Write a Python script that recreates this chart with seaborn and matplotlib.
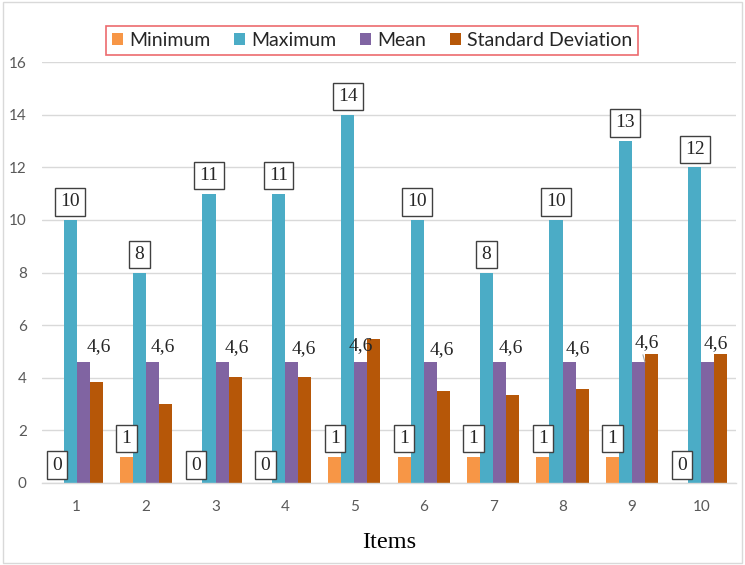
import matplotlib
matplotlib.use("Agg")
import matplotlib.pyplot as plt
import seaborn as sns
import pandas as pd
from matplotlib.patches import Rectangle

# ---- data ----
items = ["1", "2", "3", "4", "5", "6", "7", "8", "9", "10"]
series_names = ["Minimum", "Maximum", "Mean", "Standard Deviation"]
minimum = [0, 1, 0, 0, 1, 1, 1, 1, 1, 0]
maximum = [10, 8, 11, 11, 14, 10, 8, 10, 13, 12]
mean = [4.6, 4.6, 4.6, 4.6, 4.6, 4.6, 4.6, 4.6, 4.6, 4.6]
std_dev = [3.82, 3.02, 4.02, 4.02, 5.48, 3.50, 3.35, 3.57, 4.92, 4.92]
y_ticks = [0, 2, 4, 6, 8, 10, 12, 14, 16]

# ---- styling ----
colors = ["#F79646", "#4BACC6", "#8064A2", "#B65708"]
# offsets (pixels) for the "4,6" mean labels relative to bar top-centre
mean_label_dx = [16, 10, 15, 12, 0, 12, 11, 9, 8, 8]
mean_label_dy = [15, 15, 14, 13, 16, 12, 14, 13, 19, 18]

sns.set_style("white")
plt.rcParams["font.family"] = ["Lato", "DejaVu Sans"]

df = pd.DataFrame({
    "Item": items * 4,
    "Statistic": sum([[s] * len(items) for s in series_names], []),
    "Value": minimum + maximum + mean + std_dev,
})

fig = plt.figure(figsize=(7.45, 5.65), dpi=100)
ax = fig.add_axes([42 / 745, 1 - 483 / 565, (736 - 42) / 745, (483 - 62) / 565])

sns.barplot(data=df, x="Item", y="Value", hue="Statistic", order=items,
            hue_order=series_names, palette=colors, saturation=1, width=0.75,
            linewidth=0, ax=ax, errorbar=None)

ax.set_ylim(0, 16)
ax.set_yticks(y_ticks)
ax.set_xlim(-0.5, len(items) - 0.5)
ax.yaxis.grid(True, color="#d9d9d9", linewidth=1)
ax.set_axisbelow(True)
for s in ["top", "right", "left"]:
    ax.spines[s].set_visible(False)
ax.spines["bottom"].set_color("#d9d9d9")
ax.spines["bottom"].set_linewidth(1)
ax.tick_params(axis="both", length=0, labelsize=11, labelcolor="#595959")
ax.tick_params(axis="y", pad=11)
ax.tick_params(axis="x", pad=12)
ax.set_ylabel("")
ax.set_xlabel("Items", family="Liberation Serif", fontsize=17.5, color="black", labelpad=13)

box = dict(boxstyle="square,pad=0.27", facecolor="white", edgecolor="#404040", linewidth=1)
serif = "Liberation Serif"

def fmt(v):
    s = f"{v:g}"
    return s.replace(".", ",")

containers = ax.containers
# Minimum and Maximum: boxed labels above bars
for ci, vals in [(0, minimum), (1, maximum)]:
    for bar, v in zip(containers[ci], vals):
        xc = bar.get_x() + bar.get_width() / 2
        ax.annotate(fmt(v), (xc, bar.get_height()), xytext=(0, 18),
                    textcoords="offset pixels", ha="center", va="center",
                    family=serif, fontsize=14, bbox=box, zorder=5)
# Mean labels
for i, (bar, v) in enumerate(zip(containers[2], mean)):
    xc = bar.get_x() + bar.get_width() / 2
    arrow = None
    if i == 8:
        arrow = dict(arrowstyle="-", color="#a6a6a6", linewidth=0.8,
                     shrinkA=8, shrinkB=0, relpos=(0.3, 0.0))
    ax.annotate(fmt(v), (xc + (bar.get_width() / 2 if i == 8 else 0), bar.get_height()),
                xytext=(mean_label_dx[i] - (6 if i == 8 else 0), mean_label_dy[i]),
                textcoords="offset pixels", ha="center", va="center",
                family=serif, fontsize=14, zorder=5, arrowprops=arrow)

# legend
handles, labels = ax.get_legend_handles_labels()
leg = ax.legend(handles, labels, loc="center", bbox_to_anchor=(372 / 745, 1 - 40.5 / 565),
                bbox_transform=fig.transFigure, ncol=4, frameon=True, fancybox=False,
                fontsize=14, handlelength=0.55, handleheight=0.55, handletextpad=0.3,
                columnspacing=1.25, borderpad=0.3, labelcolor="#262626")
leg.get_frame().set_edgecolor("#E8454A")
leg.get_frame().set_linewidth(1.2)

fig.patches.append(Rectangle((0.004, 0.004), 0.992, 0.992, transform=fig.transFigure,
                             fill=False, edgecolor="#d9d9d9", linewidth=1))

fig.savefig("out.png", dpi=100)
